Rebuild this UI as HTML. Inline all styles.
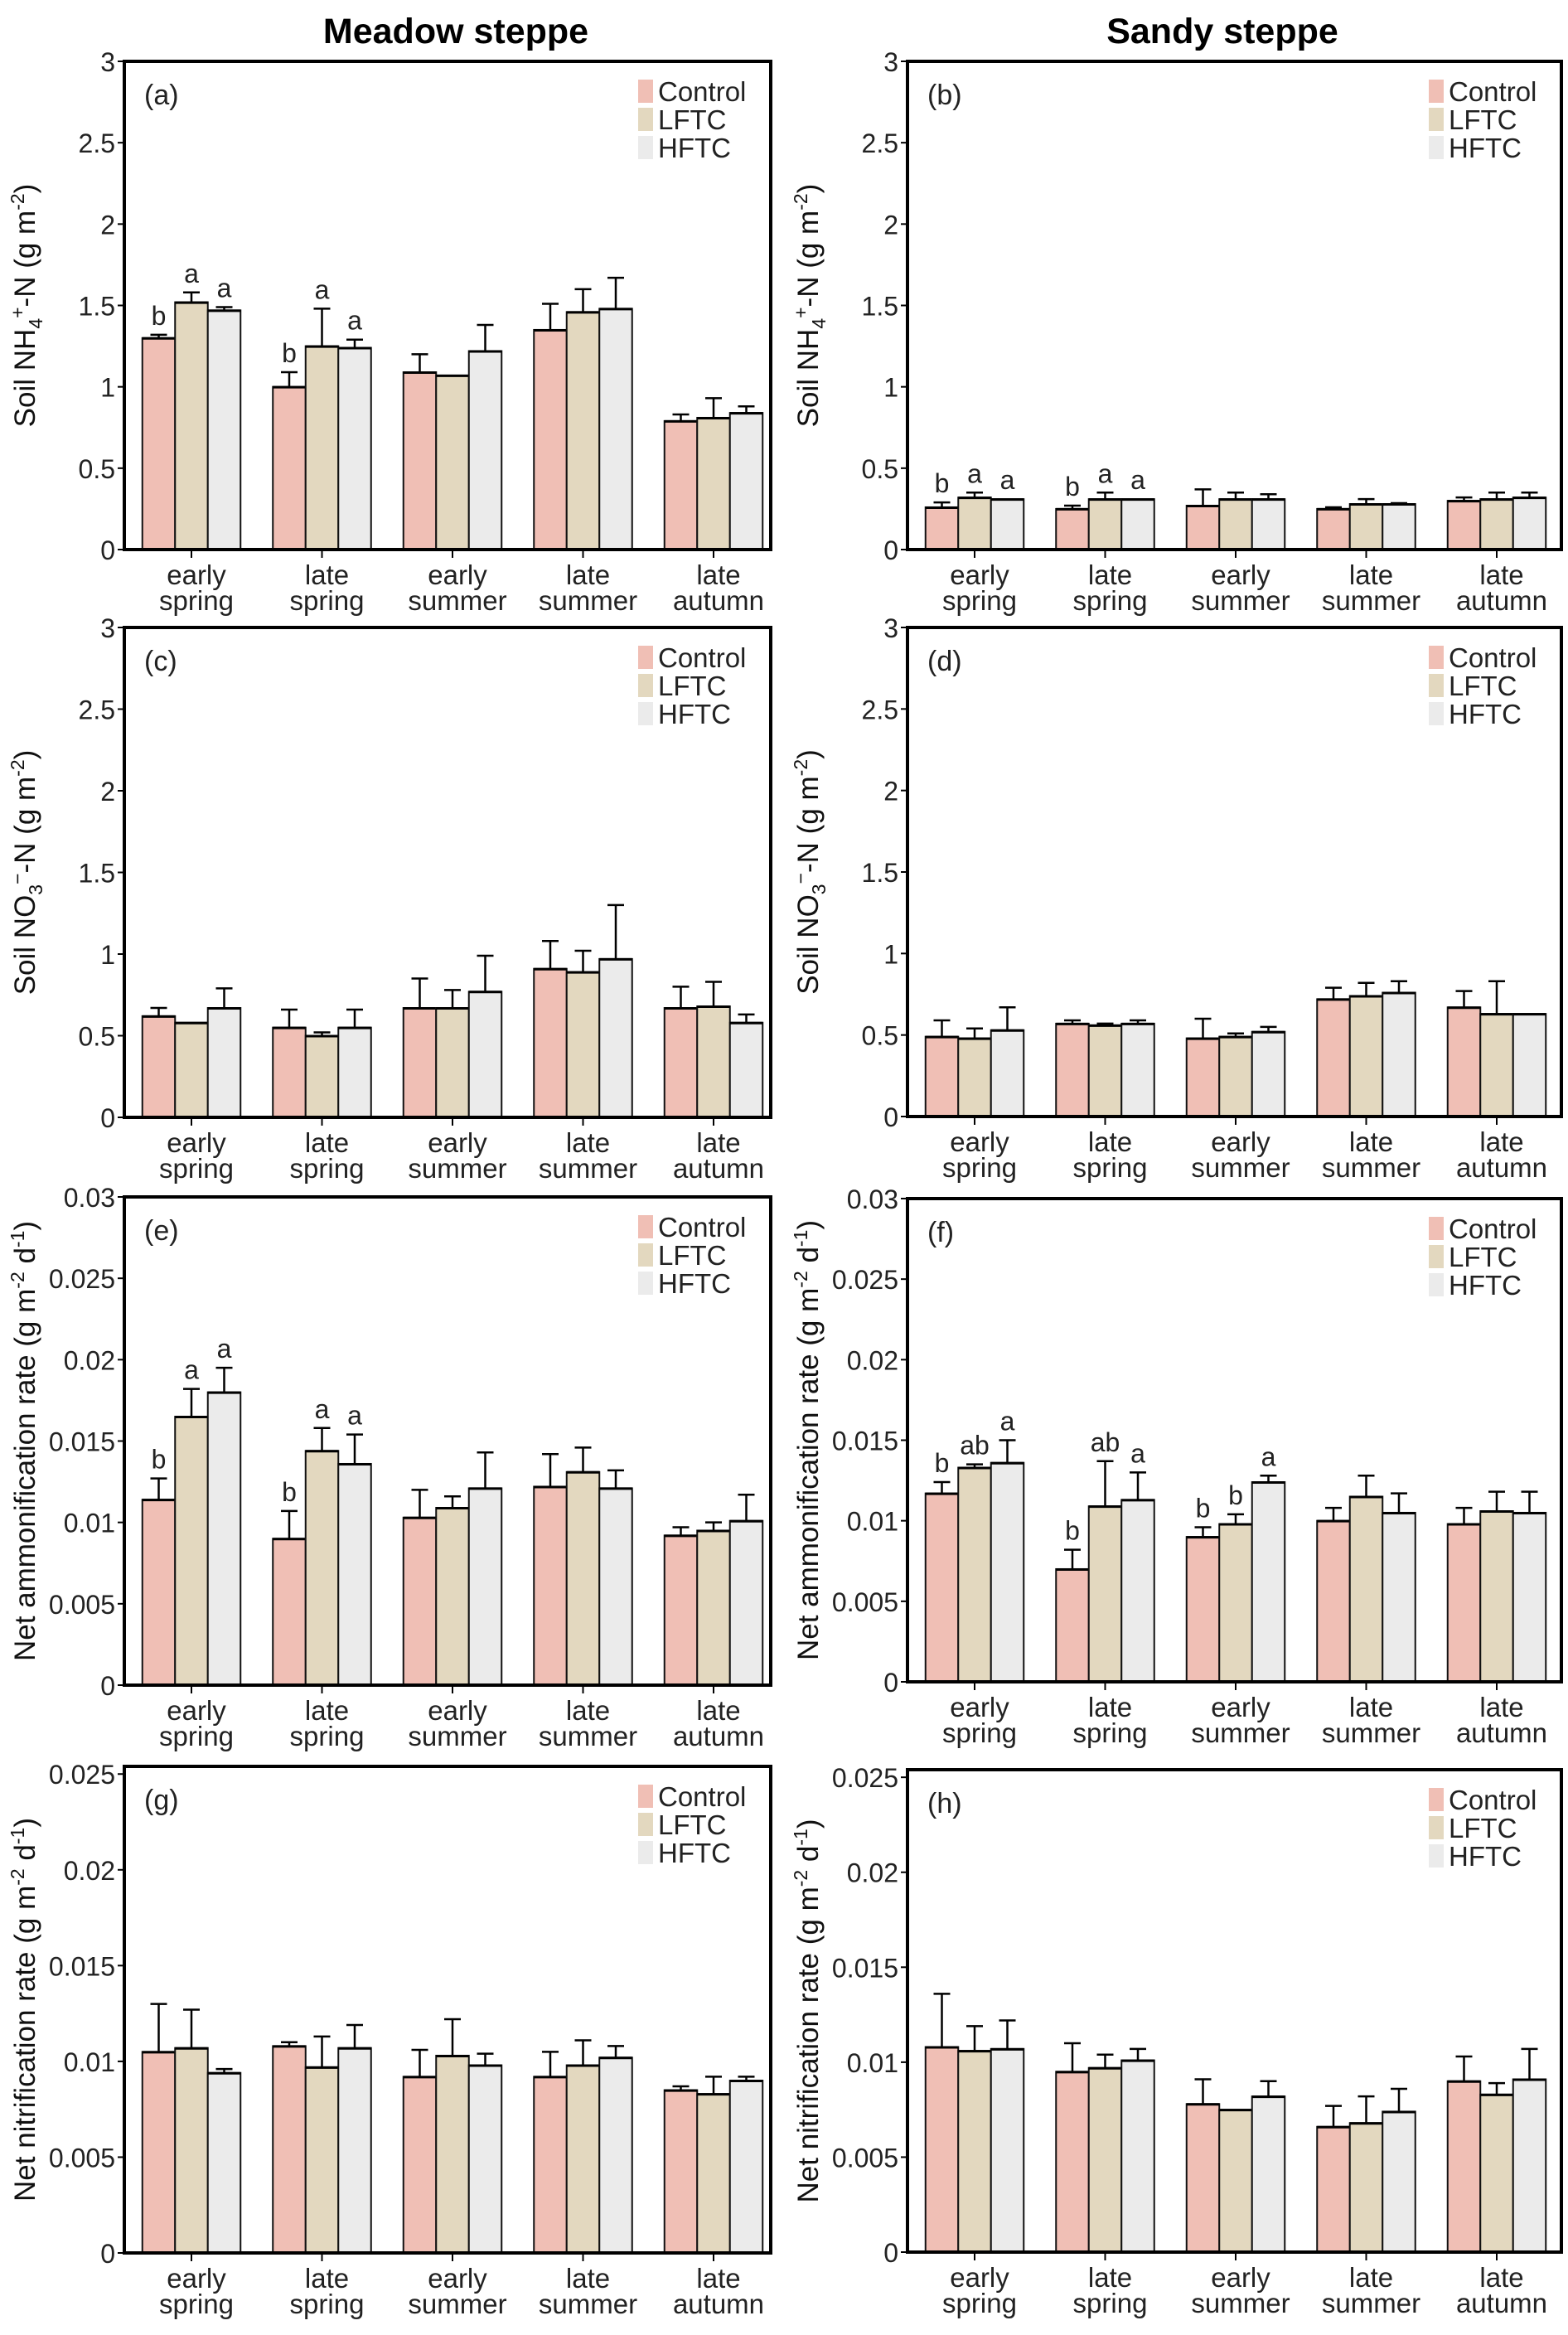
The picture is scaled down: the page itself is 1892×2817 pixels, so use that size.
<!DOCTYPE html>
<html><head><meta charset="utf-8"><style>
html,body{margin:0;padding:0;background:#fff}
svg{display:block;font-family:"Liberation Sans",Arial,sans-serif}
</style></head><body>
<svg id="fig" width="1892" height="2817" viewBox="0 0 1892 2817" xmlns="http://www.w3.org/2000/svg">
<text x="550" y="52" font-size="43" font-weight="bold" text-anchor="middle">Meadow steppe</text>
<text x="1475" y="52" font-size="43" font-weight="bold" text-anchor="middle">Sandy steppe</text>
</svg>
<script>
const categories = [["early","spring"],["late","spring"],["early","summer"],["late","summer"],["late","autumn"]];
const seriesNames = ["Control","LFTC","HFTC"];
// panel a
const aCtrl=[1.30,1.00,1.09,1.35,0.79], aCtrlErr=[1.32,1.09,1.20,1.51,0.83];
const aLftc=[1.52,1.25,1.07,1.46,0.81], aLftcErr=[1.58,1.48,1.07,1.60,0.93];
const aHftc=[1.47,1.24,1.22,1.48,0.84], aHftcErr=[1.49,1.29,1.38,1.67,0.88];
const aLetters=[["b","a","a"],["b","a","a"],["","",""],["","",""],["","",""]];
// panel b
const bCtrl=[0.26,0.25,0.27,0.25,0.30], bCtrlErr=[0.29,0.27,0.37,0.26,0.32];
const bLftc=[0.32,0.31,0.31,0.28,0.31], bLftcErr=[0.35,0.35,0.35,0.31,0.35];
const bHftc=[0.31,0.31,0.31,0.28,0.32], bHftcErr=[0.31,0.31,0.34,0.285,0.35];
const bLetters=[["b","a","a"],["b","a","a"],["","",""],["","",""],["","",""]];
// panel c
const cCtrl=[0.62,0.55,0.67,0.91,0.67], cCtrlErr=[0.67,0.66,0.85,1.08,0.80];
const cLftc=[0.58,0.50,0.67,0.89,0.68], cLftcErr=[0.58,0.52,0.78,1.02,0.83];
const cHftc=[0.67,0.55,0.77,0.97,0.58], cHftcErr=[0.79,0.66,0.99,1.30,0.63];
// panel d
const dCtrl=[0.49,0.57,0.48,0.72,0.67], dCtrlErr=[0.59,0.59,0.60,0.79,0.77];
const dLftc=[0.48,0.56,0.49,0.74,0.63], dLftcErr=[0.54,0.57,0.51,0.82,0.83];
const dHftc=[0.53,0.57,0.52,0.76,0.63], dHftcErr=[0.67,0.59,0.55,0.83,0.63];
// panel e
const eCtrl=[0.0114,0.0090,0.0103,0.0122,0.0092], eCtrlErr=[0.0127,0.0107,0.0120,0.0142,0.0097];
const eLftc=[0.0165,0.0144,0.0109,0.0131,0.0095], eLftcErr=[0.0182,0.0158,0.0116,0.0146,0.0100];
const eHftc=[0.0180,0.0136,0.0121,0.0121,0.0101], eHftcErr=[0.0195,0.0154,0.0143,0.0132,0.0117];
const eLetters=[["b","a","a"],["b","a","a"],["","",""],["","",""],["","",""]];
// panel f
const fCtrl=[0.0117,0.0070,0.0090,0.0100,0.0098], fCtrlErr=[0.0124,0.0082,0.0096,0.0108,0.0108];
const fLftc=[0.0133,0.0109,0.0098,0.0115,0.0106], fLftcErr=[0.0135,0.0137,0.0104,0.0128,0.0118];
const fHftc=[0.0136,0.0113,0.0124,0.0105,0.0105], fHftcErr=[0.0150,0.0130,0.0128,0.0117,0.0118];
const fLetters=[["b","ab","a"],["b","ab","a"],["b","b","a"],["","",""],["","",""]];
// panel g
const gCtrl=[0.0105,0.0108,0.0092,0.0092,0.0085], gCtrlErr=[0.0130,0.0110,0.0106,0.0105,0.0087];
const gLftc=[0.0107,0.0097,0.0103,0.0098,0.0083], gLftcErr=[0.0127,0.0113,0.0122,0.0111,0.0092];
const gHftc=[0.0094,0.0107,0.0098,0.0102,0.0090], gHftcErr=[0.0096,0.0119,0.0104,0.0108,0.0092];
// panel h
const hCtrl=[0.0108,0.0095,0.0078,0.0066,0.0090], hCtrlErr=[0.0136,0.0110,0.0091,0.0077,0.0103];
const hLftc=[0.0106,0.0097,0.0075,0.0068,0.0083], hLftcErr=[0.0119,0.0104,0.0075,0.0082,0.0089];
const hHftc=[0.0107,0.0101,0.0082,0.0074,0.0091], hHftcErr=[0.0122,0.0107,0.0090,0.0086,0.0107];
const ticks3=["0","0.5","1","1.5","2","2.5","3"];
const ticks03=["0","0.005","0.01","0.015","0.02","0.025","0.03"];
const ticks025=["0","0.005","0.01","0.015","0.02","0.025"];

const NS="http://www.w3.org/2000/svg";
const svg=document.getElementById('fig');
const colors=["#f0bfb5","#e3d8bf","#ebebeb"];
function mk(tag,attrs,parent){const e=document.createElementNS(NS,tag);for(const k in attrs)e.setAttribute(k,attrs[k]);(parent||svg).appendChild(e);return e;}

const panels=[
 {id:"a",x0:150,x1:930,top:74,zero:663,ymax:3,step:0.5,ticks:ticks3,vals:[aCtrl,aLftc,aHftc],errs:[aCtrlErr,aLftcErr,aHftcErr],letters:aLetters,type:"nh"},
 {id:"b",x0:1095,x1:1884,top:74,zero:663,ymax:3,step:0.5,ticks:ticks3,vals:[bCtrl,bLftc,bHftc],errs:[bCtrlErr,bLftcErr,bHftcErr],letters:bLetters,type:"nh"},
 {id:"c",x0:150,x1:930,top:757,zero:1348,ymax:3,step:0.5,ticks:ticks3,vals:[cCtrl,cLftc,cHftc],errs:[cCtrlErr,cLftcErr,cHftcErr],letters:null,type:"no"},
 {id:"d",x0:1095,x1:1884,top:757,zero:1347,ymax:3,step:0.5,ticks:ticks3,vals:[dCtrl,dLftc,dHftc],errs:[dCtrlErr,dLftcErr,dHftcErr],letters:null,type:"no"},
 {id:"e",x0:150,x1:930,top:1444,zero:2033,ymax:0.03,step:0.005,ticks:ticks03,vals:[eCtrl,eLftc,eHftc],errs:[eCtrlErr,eLftcErr,eHftcErr],letters:eLetters,type:"am"},
 {id:"f",x0:1095,x1:1884,top:1446,zero:2029,ymax:0.03,step:0.005,ticks:ticks03,vals:[fCtrl,fLftc,fHftc],errs:[fCtrlErr,fLftcErr,fHftcErr],letters:fLetters,type:"am"},
 {id:"g",x0:150,x1:930,top:2131,zero:2718,ymax:0.0254,step:0.005,ticks:ticks025,vals:[gCtrl,gLftc,gHftc],errs:[gCtrlErr,gLftcErr,gHftcErr],letters:null,type:"ni"},
 {id:"h",x0:1095,x1:1884,top:2135,zero:2717,ymax:0.0254,step:0.005,ticks:ticks025,vals:[hCtrl,hLftc,hHftc],errs:[hCtrlErr,hLftcErr,hHftcErr],letters:null,type:"ni"}
];

function yTitle(g,p,cx,cy){
  const t=mk('text',{transform:`translate(${cx},${cy}) rotate(-90)`,'font-size':35,'text-anchor':'middle',fill:'#111'},g);
  
  
  let parts;
  if(p.type==="nh") parts=[["Soil NH",0],["4",1],["+",-1],["-N (g m",0],["-2",-1],[")",0]];
  else if(p.type==="no") parts=[["Soil NO",0],["3",1],["\u2212",-1],["-N (g m",0],["-2",-1],[")",0]];
  else if(p.type==="am") parts=[["Net ammonification rate (g m",0],["-2",-1],[" d",0],["-1",-1],[")",0]];
  else parts=[["Net nitrification rate (g m",0],["-2",-1],[" d",0],["-1",-1],[")",0]];
  let cur=0;
  parts.forEach(([s,k])=>{
    const ts=mk('tspan',{},t);
    const target=k===1?9:(k===-1?-13:0);
    ts.setAttribute('dy',target-cur);cur=target;
    if(k!==0)ts.setAttribute('font-size',23);
    ts.textContent=s;
  });
}

panels.forEach(p=>{
  const g=mk('g',{});
  
  
  const yS=v=>p.zero-(v/p.ymax)*(p.zero-p.top);
  const spacing=157.5, first=p.x0+81, bw=39.5;
  const xC=i=>first+i*spacing;
  p.ticks.forEach((lab,i)=>{
    const y=yS(i*p.step);
    mk('line',{x1:p.x0-8,x2:p.x0,y1:y,y2:y,stroke:'#000','stroke-width':2},g);
    const t=mk('text',{x:p.x0-11,y:y+12,'font-size':32,'text-anchor':'end',fill:'#222'},g);
    
    
    t.textContent=lab;
  });
  categories.forEach((cat,i)=>{
    for(let s=0;s<3;s++){
      const v=p.vals[s][i], e=p.errs[s][i];
      const bx=xC(i)+(s-1.5)*bw;
      const bxc=bx+bw/2;
      if(e>v){
        const ln=mk('path',{d:`M${bxc},${yS(v)}V${yS(e)}M${bxc-10},${yS(e)}H${bxc+10}`,stroke:'#000','stroke-width':2.5,fill:'none'},g);
        
        
      }
      const r=mk('rect',{x:bx,y:yS(v),width:bw,height:p.zero-yS(v),fill:colors[s],stroke:'#111','stroke-width':2},g);
      
      
      mk('line',{x1:bx,x2:bx+bw,y1:yS(v)+0.5,y2:yS(v)+0.5,stroke:'#000','stroke-width':3},g);
      if(p.letters&&p.letters[i][s]){
        const top=Math.max(e,v);
        const lt=mk('text',{x:bxc,y:yS(top)-12,'font-size':32,'text-anchor':'middle',fill:'#222'},g);
        
        
        lt.textContent=p.letters[i][s];
      }
    }
    mk('line',{x1:xC(i),x2:xC(i),y1:p.zero,y2:p.zero+10,stroke:'#000','stroke-width':2},g);
    cat.forEach((w,k)=>{
      const ct=mk('text',{x:xC(i)+6,y:p.zero+42+k*31,'font-size':33,'text-anchor':'middle',fill:'#222'},g);
      
      
      ct.textContent=w;
    });
  });
  const fr=mk('rect',{x:p.x0,y:p.top,width:p.x1-p.x0,height:p.zero-p.top,fill:'none',stroke:'#000','stroke-width':4},g);
  
  
  const pl=mk('text',{x:p.x0+24,y:p.top+52,'font-size':34,fill:'#222'},g);
  
  
  pl.textContent='('+p.id+')';
  const lx=p.x1-160;
  seriesNames.forEach((n,s)=>{
    const ly=p.top+22+s*34;
    const sw=mk('rect',{x:lx,y:ly,width:18,height:28,fill:colors[s]},g);
    
    
    const lt=mk('text',{x:lx+24,y:ly+26,'font-size':33,fill:'#222'},g);
    
    
    lt.textContent=n;
  });
  yTitle(g,p,p.x0-108,(p.top+p.zero)/2);
});
</script>
</body></html>
